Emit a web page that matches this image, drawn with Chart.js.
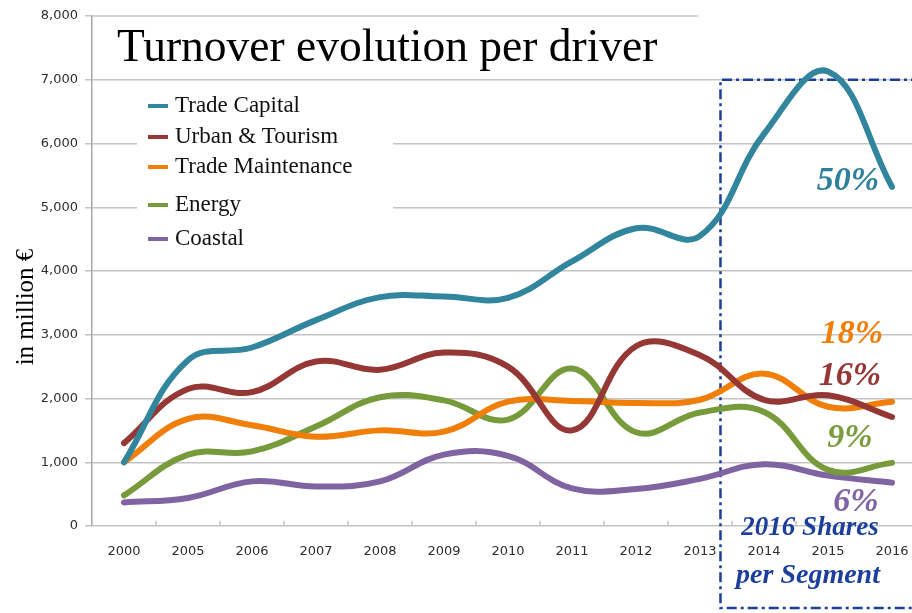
<!DOCTYPE html>
<html>
<head>
<meta charset="utf-8">
<title>Turnover evolution per driver</title>
<script src="https://cdn.jsdelivr.net/npm/chart.js@4"></script>
<style>
    html, body { margin: 0; padding: 0; background: #fff; overflow: hidden; }
    #wrap { width: 912px; height: 613px; overflow: hidden; }
</style>
</head>
<body>
<div id="wrap"><canvas id="turnoverChart" width="932" height="613"></canvas></div>
<script>
// Turnover in million euro, one value per year
const years = ['2000', '2005', '2006', '2007', '2008', '2009', '2010', '2011', '2012', '2013', '2014', '2015', '2016'];
const tradeCapital = [1000, 2600, 2800, 3230, 3590, 3600, 3580, 4150, 4670, 4550, 6150, 7130, 5320];
const urbanTourism = [1300, 2150, 2100, 2580, 2450, 2720, 2500, 1500, 2820, 2680, 1980, 2050, 1710];
const tradeMaintenance = [1000, 1680, 1580, 1400, 1500, 1480, 1950, 1960, 1930, 1980, 2390, 1870, 1950];
const energy = [480, 1120, 1170, 1560, 2020, 1970, 1670, 2470, 1470, 1780, 1790, 880, 990];
const coastal = [370, 440, 700, 620, 700, 1120, 1100, 590, 580, 740, 970, 790, 680];

const yTicks = [0, 1000, 2000, 3000, 4000, 5000, 6000, 7000, 8000];

// 2016 share of each segment
const shares = ['50%', '18%', '16%', '9%', '6%'];

const SERIF = '"Liberation Serif", "Times New Roman", serif';
const GRID = '#c4c4c4';
const BOX_BLUE = '#1c3f9c';

const series = [
    { label: 'Trade Capital', data: tradeCapital, color: '#31859c' },
    { label: 'Urban & Tourism', data: urbanTourism, color: '#953735' },
    { label: 'Trade Maintenance', data: tradeMaintenance, color: '#f07f09' },
    { label: 'Energy', data: energy, color: '#779a3b' },
    { label: 'Coastal', data: coastal, color: '#8064a2' }
];

// where each share label sits (centre x, baseline y) and its colour
const shareStyle = [
    { x: 848, y: 190, color: '#2f819b' },
    { x: 852, y: 343, color: '#f07f09' },
    { x: 850, y: 385, color: '#953735' },
    { x: 850, y: 447, color: '#7a9c3c' },
    { x: 856, y: 511, color: '#8064a2' }
];

const legendRows = [112, 143, 173, 211, 245];

const decorations = {
    id: 'decorations',
    beforeDatasetsDraw(chart) {
        const { ctx, chartArea, scales: { x, y } } = chart;
        ctx.save();

        // top gridline only runs to the 2013 column
        ctx.strokeStyle = GRID;
        ctx.lineWidth = 1.5;
        ctx.beginPath();
        ctx.moveTo(chartArea.left, y.getPixelForValue(8000));
        ctx.lineTo(x.getPixelForValue(9) - 2, y.getPixelForValue(8000));
        ctx.stroke();

        // small tick marks between categories, pointing up into the plot
        ctx.beginPath();
        for (let i = 0; i < years.length - 1; i++) {
            const px = (x.getPixelForTick(i) + x.getPixelForTick(i + 1)) / 2;
            ctx.moveTo(px, chartArea.bottom);
            ctx.lineTo(px, chartArea.bottom - 5);
        }
        ctx.stroke();

        // white panel behind the legend
        ctx.fillStyle = '#fff';
        ctx.fillRect(137, 86, 256, 168);

        // dash-dot frame around the last years
        const bx = x.getPixelForValue(9.32);
        const by = y.getPixelForValue(7000);
        ctx.strokeStyle = BOX_BLUE;
        ctx.lineWidth = 2.5;
        ctx.setLineDash([10, 4, 3, 4]);
        ctx.beginPath();
        ctx.moveTo(chart.width + 10, by);
        ctx.lineTo(bx, by);
        ctx.lineTo(bx, chart.height - 5);
        ctx.lineTo(chart.width + 10, chart.height - 5);
        ctx.stroke();
        ctx.restore();
    },
    afterDatasetsDraw(chart) {
        const { ctx } = chart;
        ctx.save();

        // title
        ctx.fillStyle = '#000';
        ctx.textAlign = 'left';
        ctx.textBaseline = 'alphabetic';
        ctx.font = '45.5px ' + SERIF;
        ctx.fillText('Turnover evolution per driver', 117, 61);

        // legend
        ctx.font = '23px ' + SERIF;
        chart.data.datasets.forEach((ds, i) => {
            const base = legendRows[i];
            ctx.fillStyle = ds.borderColor;
            ctx.fillRect(148, base - 8, 20, 4);
            ctx.fillStyle = '#111';
            ctx.fillText(ds.label, 175, base);
        });

        // y axis title
        ctx.save();
        ctx.translate(33, 307);
        ctx.rotate(-Math.PI / 2);
        ctx.textAlign = 'center';
        ctx.font = '25px ' + SERIF;
        ctx.fillStyle = '#000';
        ctx.fillText('in million €', 0, 0);
        ctx.restore();

        // 2016 shares
        ctx.textAlign = 'center';
        ctx.font = 'italic bold 34px ' + SERIF;
        shares.forEach((s, i) => {
            ctx.fillStyle = shareStyle[i].color;
            ctx.fillText(s, shareStyle[i].x, shareStyle[i].y);
        });

        ctx.fillStyle = BOX_BLUE;
        ctx.font = 'italic bold 27px ' + SERIF;
        ctx.fillText('2016 Shares', 810, 535);
        ctx.font = 'italic bold 28px ' + SERIF;
        ctx.fillText('per Segment', 808, 583);
        ctx.restore();
    }
};

new Chart(document.getElementById('turnoverChart'), {
    type: 'line',
    data: {
        labels: years,
        datasets: series.map(s => ({
            label: s.label,
            data: s.data,
            borderColor: s.color,
            backgroundColor: s.color,
            borderWidth: 6,
            borderCapStyle: 'round',
            borderJoinStyle: 'round',
            tension: 0.4,
            pointRadius: 0,
            fill: false
        }))
    },
    options: {
        responsive: false,
        animation: false,
        layout: { padding: { top: 16, right: 8, bottom: 0, left: 0 } },
        plugins: {
            legend: { display: false },
            tooltip: { enabled: false }
        },
        scales: {
            x: {
                offset: true,
                afterFit: (scale) => { scale.height = 87; },
                grid: { display: false },
                border: { display: false },
                ticks: {
                    padding: 10,
                    color: '#2e2e2e',
                    font: { family: '"DejaVu Sans", Verdana, sans-serif', size: 13 }
                }
            },
            y: {
                min: 0,
                max: 8000,
                afterFit: (scale) => { scale.width = 92; },
                afterBuildTicks: (scale) => { scale.ticks = yTicks.map(v => ({ value: v })); },
                grid: {
                    color: (c) => c.tick && c.tick.value === 8000 ? 'rgba(0,0,0,0)' : GRID,
                    lineWidth: 1.5,
                    drawTicks: true,
                    tickLength: 7,
                    tickColor: GRID
                },
                border: { display: true, color: '#a6a6a6', width: 1.5 },
                ticks: {
                    padding: 7,
                    color: '#2e2e2e',
                    font: { family: '"DejaVu Sans", Verdana, sans-serif', size: 13 },
                    callback: (value) => value.toLocaleString('en-US')
                }
            }
        }
    },
    plugins: [decorations]
});
</script>
</body>
</html>
